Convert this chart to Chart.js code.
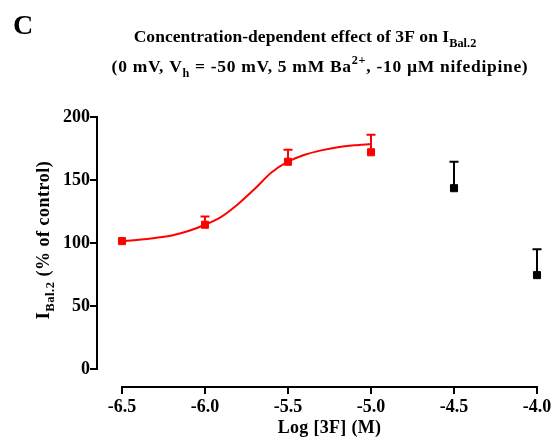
<!DOCTYPE html>
<html>
<head>
<meta charset="utf-8">
<script src="https://cdn.jsdelivr.net/npm/chart.js@4"></script>
<style>
  html, body { margin: 0; padding: 0; background: #fff; }
  #wrap { width: 551px; height: 445px; }
</style>
</head>
<body>
<div id="wrap"><canvas id="c" width="551" height="445"></canvas></div>
<script>
// measured points (log conc, % of control, upper SEM)
var logConc = [-6.5, -6.0, -5.5, -5.0];
var redMean = [101.5, 114.5, 164.5, 172];
var redSem = [0, 6.5, 9.5, 14];

var logConcHigh = [-4.5, -4.0];
var blackMean = [143.5, 74.5];
var blackSem = [21, 20.5];

// fitted curve
var fitX = [-6.5, -6.4, -6.3, -6.2, -6.1, -6.0, -5.9, -5.8, -5.7, -5.6, -5.5, -5.4, -5.3, -5.2, -5.1, -5.0];
var fitY = [101.5, 102.5, 104, 106, 109.5, 114.5, 121, 131, 143, 156, 164.5, 170, 173.5, 176, 177.5, 178.5];

var xTicks = [-6.5, -6.0, -5.5, -5.0, -4.5, -4.0];
var yTicks = [0, 50, 100, 150, 200];

var serif = '"Liberation Serif", "Times New Roman", serif';

function pts(xs, ys) {
  return xs.map(function (x, i) { return { x: x, y: ys[i] }; });
}

// text with sub/superscript pieces
function richWidth(ctx, parts, size) {
  var w = 0;
  parts.forEach(function (p) {
    ctx.font = 'bold ' + (p.sub || p.sup ? size * 0.7 : size) + 'px ' + serif;
    w += ctx.measureText(p.t).width;
  });
  return w;
}
function drawRich(ctx, parts, x, y, size, spacing) {
  ctx.letterSpacing = (spacing || 0) + 'px';
  var w = richWidth(ctx, parts, size);
  var cx = x - w / 2;
  ctx.textAlign = 'left';
  ctx.textBaseline = 'alphabetic';
  parts.forEach(function (p) {
    var s = p.sub || p.sup ? size * 0.7 : size;
    ctx.font = 'bold ' + s + 'px ' + serif;
    var dy = p.sub ? size * 0.3 : (p.sup ? -size * 0.45 : 0);
    ctx.fillText(p.t, cx, y + dy);
    cx += ctx.measureText(p.t).width;
  });
  ctx.letterSpacing = '0px';
}

var textPlugin = {
  id: 'texts',
  afterDraw: function (chart) {
    var ctx = chart.ctx;
    var a = chart.chartArea;
    ctx.save();
    ctx.fillStyle = '#000';
    ctx.font = 'bold 28px ' + serif;
    ctx.textAlign = 'left';
    ctx.textBaseline = 'alphabetic';
    ctx.fillText('C', 13, 34);

    drawRich(ctx, [{ t: 'Concentration-dependent effect of 3F on I' }, { t: 'Bal.2', sub: true }], 305, 42, 17.5, 0.05);
    drawRich(ctx, [{ t: '(0 mV, V' }, { t: 'h', sub: true }, { t: ' = -50 mV, 5 mM Ba' }, { t: '2+', sup: true }, { t: ', -10 \u00B5M nifedipine)' }], 320, 72, 17.5, 0.7);

    drawRich(ctx, [{ t: 'Log [3F] (M)' }], (a.left + a.right) / 2, 433, 18, 0.3);

    ctx.translate(49, (a.top + a.bottom) / 2 - 3);
    ctx.rotate(-Math.PI / 2);
    drawRich(ctx, [{ t: 'I' }, { t: 'Bal.2', sub: true }, { t: ' (% of control)' }], 0, 0, 18, 0.5);
    ctx.restore();
  }
};

// Prism style detached axes
var axesPlugin = {
  id: 'axes',
  afterDraw: function (chart) {
    var ctx = chart.ctx;
    var a = chart.chartArea;
    var xs = chart.scales.x, ys = chart.scales.y;
    var yAxisX = a.left - 25, xAxisY = a.bottom + 18;
    ctx.save();
    ctx.strokeStyle = '#000';
    ctx.lineWidth = 2;
    ctx.beginPath();
    ctx.moveTo(yAxisX, ys.getPixelForValue(200) - 1);
    ctx.lineTo(yAxisX, ys.getPixelForValue(0) + 1);
    yTicks.forEach(function (v) {
      var py = ys.getPixelForValue(v);
      ctx.moveTo(yAxisX - 7, py);
      ctx.lineTo(yAxisX, py);
    });
    ctx.moveTo(xs.getPixelForValue(-6.5) - 1, xAxisY);
    ctx.lineTo(xs.getPixelForValue(-4.0) + 1, xAxisY);
    xTicks.forEach(function (v) {
      var px = xs.getPixelForValue(v);
      ctx.moveTo(px, xAxisY);
      ctx.lineTo(px, xAxisY + 7);
    });
    ctx.stroke();
    ctx.restore();
  }
};

// upper error bars
var errPlugin = {
  id: 'errbars',
  beforeDatasetsDraw: function (chart) {
    var ctx = chart.ctx;
    var xs = chart.scales.x, ys = chart.scales.y;
    var sets = [
      { x: logConc, m: redMean, e: redSem, c: '#ff0000' },
      { x: logConcHigh, m: blackMean, e: blackSem, c: '#000000' }
    ];
    ctx.save();
    ctx.lineWidth = 2;
    sets.forEach(function (s) {
      ctx.strokeStyle = s.c;
      s.x.forEach(function (x, i) {
        if (!s.e[i]) return;
        var px = xs.getPixelForValue(x);
        var p0 = ys.getPixelForValue(s.m[i]);
        var p1 = ys.getPixelForValue(s.m[i] + s.e[i]);
        ctx.beginPath();
        ctx.moveTo(px, p0);
        ctx.lineTo(px, p1);
        ctx.moveTo(px - 4.5, p1);
        ctx.lineTo(px + 4.5, p1);
        ctx.stroke();
      });
    });
    ctx.restore();
  }
};

var hiddenGrid = { display: true, drawOnChartArea: false, drawTicks: true, color: 'rgba(0,0,0,0)' };

new Chart(document.getElementById('c'), {
  type: 'scatter',
  data: {
    datasets: [
      {
        label: 'fit',
        data: pts(fitX, fitY),
        showLine: true,
        borderColor: '#ff0000',
        borderWidth: 2,
        pointRadius: 0,
        cubicInterpolationMode: 'monotone',
        clip: false
      },
      {
        label: '3F',
        data: pts(logConc, redMean),
        showLine: false,
        pointStyle: 'rect',
        pointRadius: 5,
        backgroundColor: '#ff0000',
        borderColor: '#ff0000',
        borderWidth: 1,
        clip: false
      },
      {
        label: '3F high',
        data: pts(logConcHigh, blackMean),
        showLine: false,
        pointStyle: 'rect',
        pointRadius: 5,
        backgroundColor: '#000000',
        borderColor: '#000000',
        borderWidth: 1,
        clip: false
      }
    ]
  },
  options: {
    responsive: false,
    animation: false,
    layout: { padding: { left: 0, top: 117, right: 14, bottom: 0 } },
    plugins: { legend: { display: false }, tooltip: { enabled: false } },
    scales: {
      x: {
        type: 'linear',
        min: -6.5,
        max: -4.0,
        afterFit: function (s) { s.height = 76; s.paddingLeft = 0; s.paddingRight = 0; },
        afterBuildTicks: function (s) { s.ticks = xTicks.map(function (v) { return { value: v }; }); },
        grid: Object.assign({ tickLength: 26 }, hiddenGrid),
        border: { display: false },
        ticks: {
          padding: 2,
          maxRotation: 0,
          color: '#000',
          font: { family: serif, size: 18, weight: 'bold' },
          callback: function (v) { return v.toFixed(1); }
        }
      },
      y: {
        min: 0,
        max: 200,
        afterFit: function (s) { s.width = 122; },
        afterBuildTicks: function (s) { s.ticks = yTicks.map(function (v) { return { value: v }; }); },
        grid: Object.assign({ tickLength: 30 }, hiddenGrid),
        border: { display: false },
        ticks: {
          padding: 2,
          color: '#000',
          font: { family: serif, size: 18, weight: 'bold' }
        }
      }
    }
  },
  plugins: [errPlugin, axesPlugin, textPlugin]
});
</script>
</body>
</html>
